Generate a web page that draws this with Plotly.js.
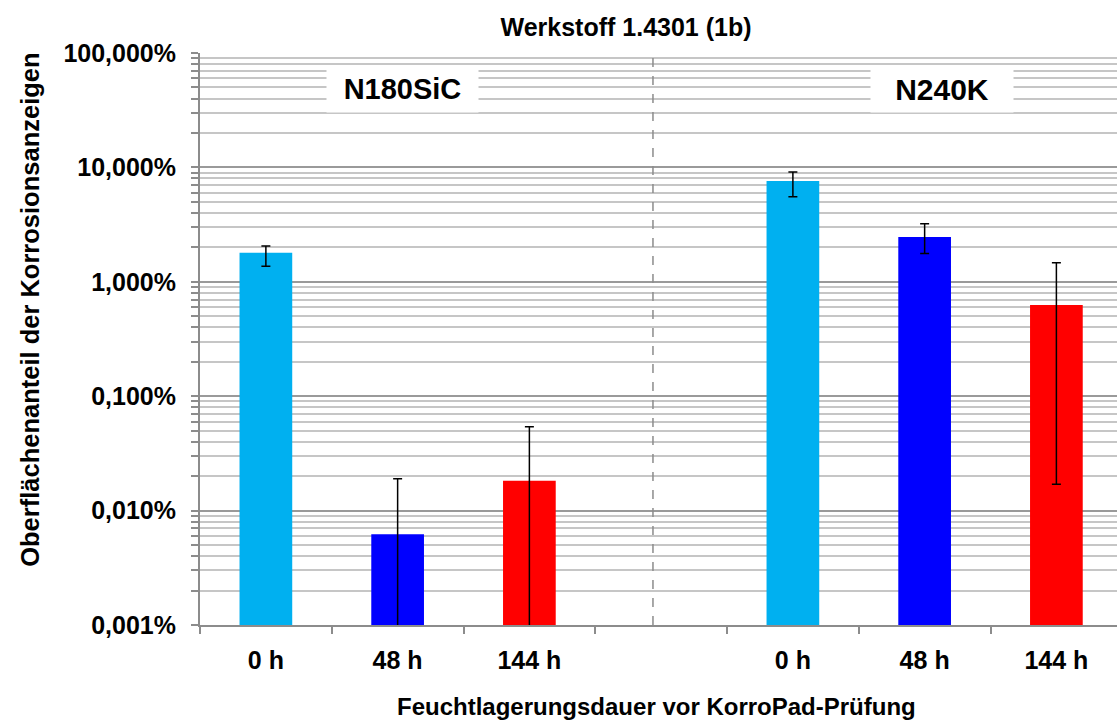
<!DOCTYPE html>
<html>
<head>
<meta charset="utf-8">
<script src="https://cdn.plot.ly/plotly-3.0.1.min.js"></script>
<style>html,body{margin:0;padding:0;background:#fff;}#chart{width:1117px;height:722px;}</style>
</head>
<body>
<div id="chart"></div>
<script>
// Category slots (one empty slot separates the two abrasive groups)
var categoryIds = ["a0", "a48", "a144", "gap", "b0", "b48", "b144"];
var tickLabels = ["0 h", "48 h", "144 h", "", "0 h", "48 h", "144 h"];
var groupLabels = ["N180SiC", "N240K"];

// Surface share of corrosion indications in percent
var valuesPct   = [1.79, 0.0062, 0.0182, null, 7.6, 2.46, 0.627];
var errPlusPct  = [0.27, 0.0128, 0.036, null, 1.5, 0.76, 0.843];
var errMinusPct = [0.42, 0.0062, 0.0182, null, 2.06, 0.69, 0.61];
var barColors   = ["#00B0F0", "#0000FF", "#FF0000", "#ffffff", "#00B0F0", "#0000FF", "#FF0000"];

function toFrac(a){ return a.map(function(v){ return v === null ? null : v / 100; }); }

var FONT = "Liberation Sans, Arial, sans-serif";

var trace = {
  type: "bar",
  x: categoryIds,
  y: toFrac(valuesPct),
  marker: { color: barColors, line: { width: 0 } },
  error_y: {
    type: "data",
    symmetric: false,
    array: toFrac(errPlusPct),
    arrayminus: toFrac(errMinusPct),
    color: "#000000",
    thickness: 1.5,
    width: 4.5
  },
  hoverinfo: "none"
};

var layout = {
  width: 1117,
  height: 722,
  margin: { l: 200, r: 0, t: 53, b: 97 },
  paper_bgcolor: "#ffffff",
  plot_bgcolor: "#ffffff",
  separators: ",.",
  showlegend: false,
  bargap: 0.6,
  font: { family: FONT, color: "#000000", size: 24, weight: "bold" },
  title: {
    text: "Werkstoff 1.4301 (1b)",
    font: { family: FONT, size: 25, weight: "bold", color: "#000" },
    xref: "paper", x: 0.4646, xanchor: "center",
    yref: "container", y: 0.962, yanchor: "middle"
  },
  xaxis: {
    type: "category",
    categoryorder: "array",
    categoryarray: categoryIds,
    tickvals: categoryIds,
    ticktext: tickLabels,
    range: [-0.5, 6.46],
    tickson: "boundaries",
    ticks: "outside",
    ticklen: 7,
    tickwidth: 2,
    tickcolor: "#8c8c8c",
    showline: true,
    linecolor: "#8c8c8c",
    linewidth: 2,
    showgrid: false,
    zeroline: false,
    ticklabelstandoff: 12,
    tickfont: { family: FONT, size: 25, weight: "bold", color: "#000" }
  },
  yaxis: {
    type: "log",
    range: [-5, 0],
    dtick: 1,
    tickformat: ".3%",
    ticks: "outside",
    ticklen: 7,
    tickwidth: 2,
    tickcolor: "#8c8c8c",
    showline: true,
    linecolor: "#8c8c8c",
    linewidth: 2,
    showgrid: true,
    gridcolor: "#9a9a9a",
    gridwidth: 2,
    zeroline: false,
    ticklabelstandoff: 10,
    tickfont: { family: FONT, size: 25, weight: "bold", color: "#000" },
    minor: {
      dtick: "D1",
      ticks: "outside",
      ticklen: 7,
      tickwidth: 2,
      tickcolor: "#8c8c8c",
      showgrid: true,
      gridcolor: "#c6c6c6",
      gridwidth: 2
    }
  },
  shapes: [{
    type: "line",
    xref: "x", yref: "paper",
    x0: 2.938, x1: 2.938, y0: 0, y1: 1,
    line: { color: "#8c8c8c", width: 1.5, dash: "dash" },
    layer: "above"
  }],
  annotations: [
    {
      text: groupLabels[0], xref: "paper", yref: "paper", x: 0.2208, y: 0.937,
      xanchor: "center", yanchor: "middle", showarrow: false,
      width: 149, height: 44, bgcolor: "#ffffff",
      font: { family: FONT, size: 29, weight: "bold", color: "#000" }
    },
    {
      text: groupLabels[1], xref: "paper", yref: "paper", x: 0.809, y: 0.937,
      xanchor: "center", yanchor: "middle", showarrow: false,
      width: 140, height: 44, bgcolor: "#ffffff",
      font: { family: FONT, size: 30, weight: "bold", color: "#000" }
    },
    {
      text: "Oberflächenanteil der Korrosionsanzeigen",
      xref: "paper", yref: "paper", x: -0.1854, y: 0.551,
      xanchor: "center", yanchor: "middle", textangle: -90, showarrow: false,
      font: { family: FONT, size: 25.5, weight: "bold", color: "#000" }
    },
    {
      text: "Feuchtlagerungsdauer vor KorroPad-Prüfung",
      xref: "paper", yref: "paper", x: 0.498, y: -0.143,
      xanchor: "center", yanchor: "middle", showarrow: false,
      font: { family: FONT, size: 24, weight: "bold", color: "#000" }
    }
  ]
};

Plotly.newPlot("chart", [trace], layout, { staticPlot: true, displayModeBar: false });
</script>
</body>
</html>
